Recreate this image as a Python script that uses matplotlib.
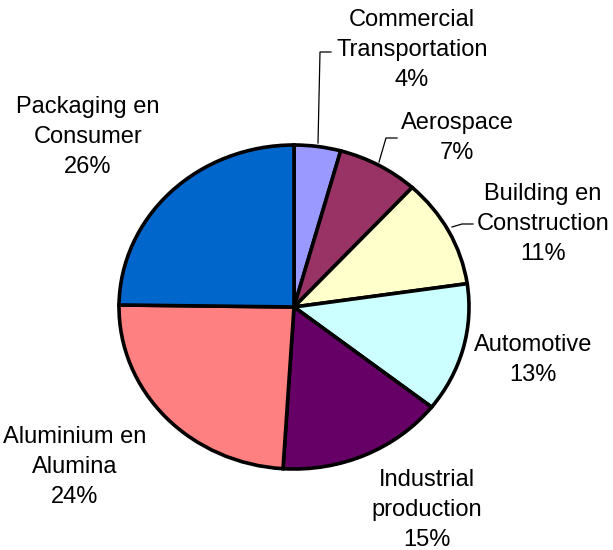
import numpy as np
import matplotlib.pyplot as plt

plt.rcParams['font.family'] = ['Liberation Sans', 'DejaVu Sans']

sectors = ['Commercial\nTransportation', 'Aerospace', 'Building en\nConstruction',
           'Automotive', 'Industrial\nproduction', 'Aluminium en\nAlumina',
           'Packaging en\nConsumer']
shares = [4.3, 7.5, 10.9, 12.9, 15.4, 24.2, 24.8]
pct_labels = ['4%', '7%', '11%', '13%', '15%', '24%', '26%']
colors = ['#9999FF', '#993366', '#FFFFCC', '#CCFFFF', '#660066', '#FF8080', '#0066CC']

# layout (pixels)
W, H = 613, 550
cx, cy = 294, 307
rx, ry = 175, 162
label_pos = [(412, 50), (457, 138), (543, 224), (533, 360),
             (427, 510), (75, 467), (88, 137)]
leaders = [[(318, 143), (320, 52), (331, 52)],
           [(379, 162), (386, 138), (397, 138)],
           [(452, 227), (462, 224), (473, 224)]]


def px(x, y):
    return (x - cx) / rx, (cy - y) / ry


fig = plt.figure(figsize=(W / 100, H / 100), dpi=100)
ax = fig.add_axes([0, 0, 1, 1])
ax.pie(shares, colors=colors, startangle=90, counterclock=False,
       wedgeprops=dict(edgecolor='black', linewidth=2.6))
ax.set_aspect('auto')
ax.set_xlim(-cx / rx, (W - cx) / rx)
ax.set_ylim(-(H - cy) / ry, cy / ry)
ax.axis('off')

# labels
for name, p, (x, y) in zip(sectors, pct_labels, label_pos):
    tx, ty = px(x, y)
    ax.text(tx, ty, f'{name}\n{p}', ha='center', va='center',
            multialignment='center', fontsize=17, linespacing=1.45)

# leader lines
for pts in leaders:
    xy = np.array([px(x, y) for x, y in pts])
    ax.plot(xy[:, 0], xy[:, 1], color='black', lw=0.9)

fig.savefig('out.png', dpi=100)
